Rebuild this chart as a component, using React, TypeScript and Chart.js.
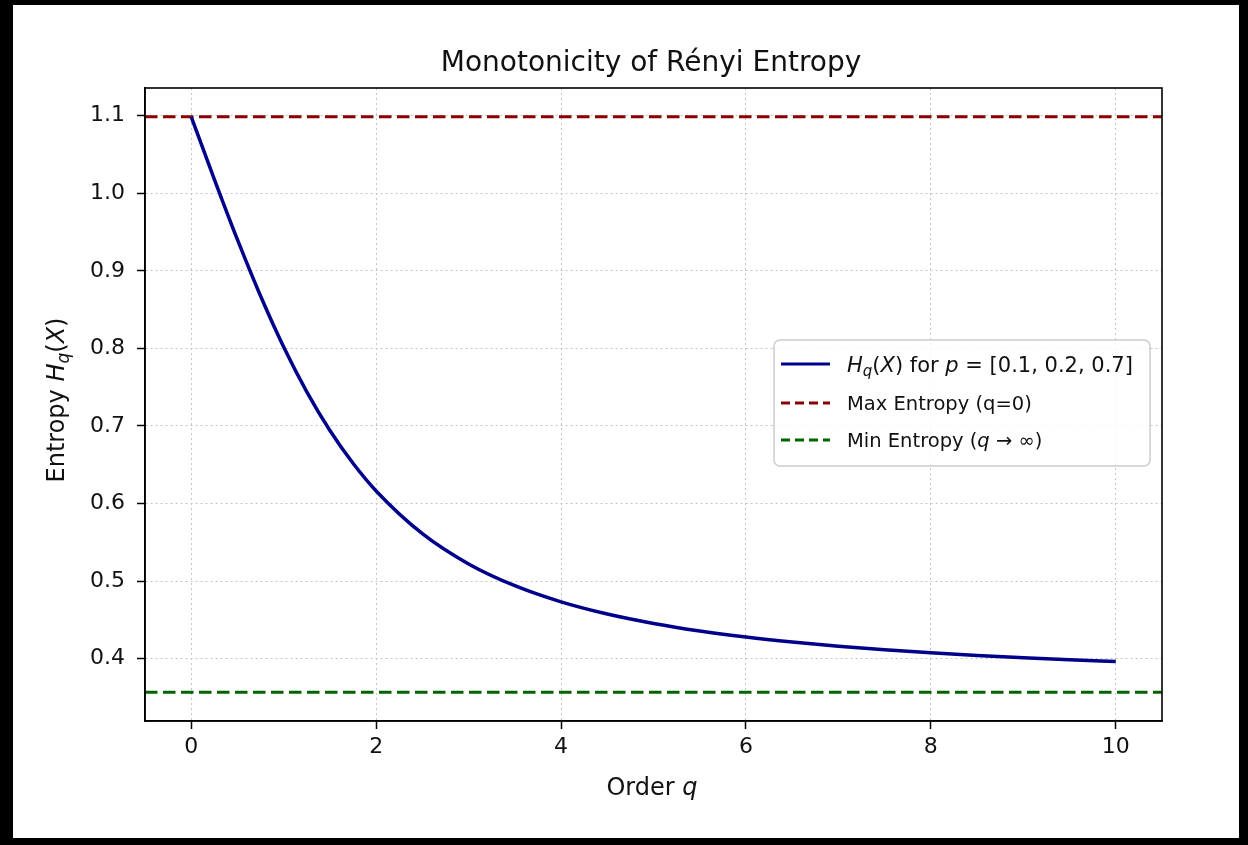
import React, { useEffect, useRef } from "react";
import { Chart, registerables } from "chart.js";

Chart.register(...registerables);

// ---- Data ----
const qValues = [0, 0.25, 0.5, 0.75, 1, 1.25, 1.5, 1.75, 2, 2.5, 3, 3.5, 4, 4.5, 5, 5.5, 6, 6.5, 7, 7.5, 8, 8.5, 9, 9.5, 10];
const entropyValues = [1.0986, 1.018, 0.9401, 0.8675, 0.8018, 0.744, 0.6942, 0.6519, 0.6162, 0.5611, 0.5221, 0.494, 0.4732, 0.4575, 0.4454, 0.4357, 0.4279, 0.4215, 0.4161, 0.4115, 0.4076, 0.4042, 0.4013, 0.3986, 0.3963];
const maxEntropy = 1.0986;
const minEntropy = 0.3567;
const xTicks = [0, 2, 4, 6, 8, 10];
const yTicks = [0.4, 0.5, 0.6, 0.7, 0.8, 0.9, 1.0, 1.1];
const xRange = [-0.5, 10.5];
const yRange = [0.3196, 1.1357];

const chartTitle = "Monotonicity of Rényi Entropy";

const FONT = "'DejaVu Sans', 'Noto Sans', sans-serif";

const BLUE = "#00008b";
const RED = "#8b0000";
const GREEN = "#006400";

type Seg = { t: string; it?: boolean; sub?: boolean };

const legendRows: { color: string; dash: number[]; size: number; segs: Seg[] }[] = [
  {
    color: BLUE,
    dash: [],
    size: 21,
    segs: [
      { t: "H", it: true },
      { t: "q", it: true, sub: true },
      { t: "(" },
      { t: "X", it: true },
      { t: ") for " },
      { t: "p", it: true },
      { t: " = [0.1, 0.2, 0.7]" },
    ],
  },
  { color: RED, dash: [9, 5], size: 19.5, segs: [{ t: "Max Entropy (q=0)" }] },
  {
    color: GREEN,
    dash: [9, 5],
    size: 19.5,
    segs: [{ t: "Min Entropy (" }, { t: "q", it: true }, { t: " → ∞)" }],
  },
];

const yTitle: Seg[] = [
  { t: "Entropy " },
  { t: "H", it: true },
  { t: "q", it: true, sub: true },
  { t: "(" },
  { t: "X", it: true },
  { t: ")" },
];
const xTitle: Seg[] = [{ t: "Order " }, { t: "q", it: true }];

function drawRich(
  ctx: CanvasRenderingContext2D,
  segs: Seg[],
  x: number,
  y: number,
  size: number,
  align: "left" | "center"
) {
  const fontOf = (s: Seg) =>
    `${s.it ? "italic " : ""}${s.sub ? Math.round(size * 0.7) : size}px ${FONT}`;
  const widths = segs.map((s) => {
    ctx.font = fontOf(s);
    return ctx.measureText(s.t).width;
  });
  const total = widths.reduce((a, b) => a + b, 0);
  let cx = align === "center" ? x - total / 2 : x;
  ctx.textAlign = "left";
  ctx.textBaseline = "alphabetic";
  segs.forEach((s, i) => {
    ctx.font = fontOf(s);
    ctx.fillText(s.t, cx, s.sub ? y + size * 0.22 : y);
    cx += widths[i];
  });
}

const decorPlugin = {
  id: "decor",
  beforeDraw(chart: any) {
    const ctx = chart.ctx as CanvasRenderingContext2D;
    const { width, height } = chart;
    ctx.save();
    ctx.fillStyle = "#000";
    ctx.fillRect(0, 0, width, height);
    ctx.fillStyle = "#fff";
    ctx.fillRect(13, 5, width - 13 - 9, height - 5 - 7);
    ctx.restore();
  },
  afterDatasetsDraw(chart: any) {
    const ctx = chart.ctx as CanvasRenderingContext2D;
    const a = chart.chartArea;
    ctx.save();
    // spines
    ctx.strokeStyle = "#000";
    ctx.lineWidth = 1.6;
    ctx.strokeRect(a.left, a.top, a.right - a.left, a.bottom - a.top);

    // title
    ctx.fillStyle = "#111";
    drawRich(ctx, [{ t: chartTitle }], 651, 71, 28, "center");

    // x title
    drawRich(ctx, xTitle, 652, 795, 24, "center");

    // y title
    ctx.save();
    ctx.translate(64, 400);
    ctx.rotate(-Math.PI / 2);
    drawRich(ctx, yTitle, 0, 0, 24, "center");
    ctx.restore();

    // legend
    const lx = 774, ly = 340, lw = 376, lh = 126;
    ctx.beginPath();
    (ctx as any).roundRect(lx, ly, lw, lh, 6);
    ctx.fillStyle = "rgba(255,255,255,0.85)";
    ctx.fill();
    ctx.strokeStyle = "#cccccc";
    ctx.lineWidth = 1.5;
    ctx.stroke();

    const rowY = [364, 403, 440];
    legendRows.forEach((r, i) => {
      ctx.beginPath();
      ctx.setLineDash(r.dash);
      ctx.strokeStyle = r.color;
      ctx.lineWidth = 3;
      ctx.moveTo(781, rowY[i]);
      ctx.lineTo(830, rowY[i]);
      ctx.stroke();
      ctx.setLineDash([]);
      ctx.fillStyle = "#111";
      drawRich(ctx, r.segs, 847, rowY[i] + r.size * 0.36, r.size, "left");
    });
    ctx.restore();
  },
};

export default function App() {
  const ref = useRef<HTMLCanvasElement | null>(null);
  useEffect(() => {
    if (!ref.current) return;
    const chart = new Chart(ref.current, {
      type: "line",
      data: {
        datasets: [
          {
            label: "H",
            data: qValues.map((q, i) => ({ x: q, y: entropyValues[i] })),
            borderColor: BLUE,
            borderWidth: 3.5,
            pointRadius: 0,
            cubicInterpolationMode: "monotone",
            fill: false,
          },
          {
            label: "max",
            data: xRange.map((x) => ({ x, y: maxEntropy })),
            borderColor: RED,
            borderWidth: 3,
            borderDash: [12.5, 5.5],
            pointRadius: 0,
            fill: false,
          },
          {
            label: "min",
            data: xRange.map((x) => ({ x, y: minEntropy })),
            borderColor: GREEN,
            borderWidth: 3,
            borderDash: [12.5, 5.5],
            pointRadius: 0,
            fill: false,
          },
        ],
      },
      options: {
        animation: false,
        responsive: false,
        maintainAspectRatio: false,
        layout: { padding: { top: 88, right: 86, left: 0, bottom: 0 } },
        plugins: {
          legend: { display: false },
          title: { display: false },
          tooltip: { enabled: false },
        },
        scales: {
          x: {
            type: "linear",
            min: xRange[0],
            max: xRange[1],
            afterBuildTicks: (s: any) => {
              s.ticks = xTicks.map((v) => ({ value: v }));
            },
            afterFit: (s: any) => {
              s.height = 124;
            },
            ticks: {
              color: "#111",
              font: { family: FONT, size: 22 },
              padding: 5,
              maxRotation: 0,
              autoSkip: false,
              callback: (v: any) => String(v),
            },
            grid: {
              color: "#c4c4c4",
              lineWidth: 1,
              tickColor: "#000",
              tickLength: 8,
              tickWidth: 1.5,
            },
            border: { display: true, color: "#000", width: 1.6, dash: [2, 3] },
          },
          y: {
            type: "linear",
            min: yRange[0],
            max: yRange[1],
            afterBuildTicks: (s: any) => {
              s.ticks = yTicks.map((v) => ({ value: v }));
            },
            afterFit: (s: any) => {
              s.width = 145;
            },
            ticks: {
              color: "#111",
              font: { family: FONT, size: 22 },
              padding: 12,
              autoSkip: false,
              callback: (v: any) => Number(v).toFixed(1),
            },
            grid: {
              color: "#c4c4c4",
              lineWidth: 1,
              tickColor: "#000",
              tickLength: 8,
              tickWidth: 1.5,
            },
            border: { display: true, color: "#000", width: 1.6, dash: [2, 3] },
          },
        },
      },
      plugins: [decorPlugin],
    });
    return () => chart.destroy();
  }, []);
  return (
    <div style={{ position: "absolute", left: 0, top: 0, width: 1248, height: 845 }}>
      <canvas ref={ref} width={1248} height={845} style={{ display: "block", width: 1248, height: 845 }} />
    </div>
  );
}
